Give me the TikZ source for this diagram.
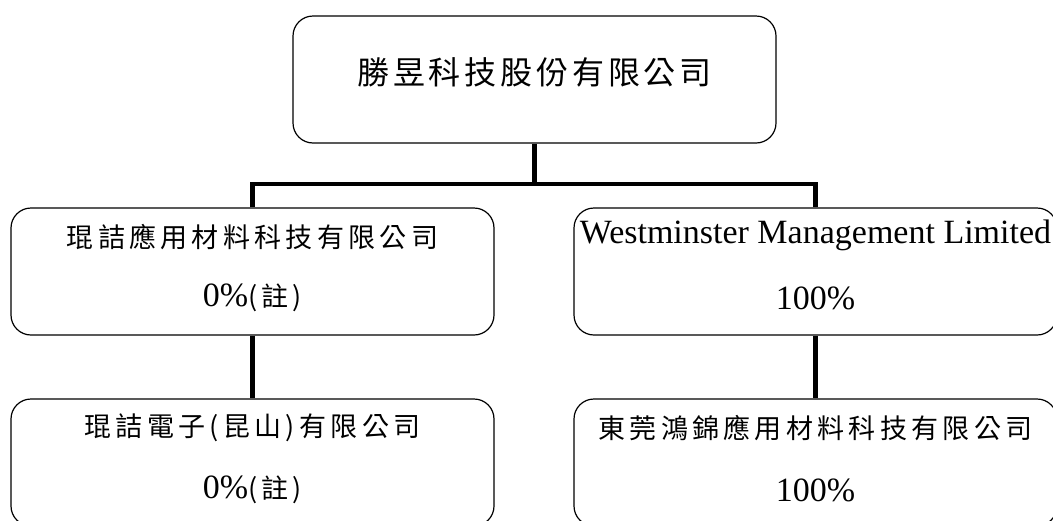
\documentclass[tikz,border=0pt]{standalone}
\usepackage{fontspec}
\setmainfont{Liberation Serif}
\newfontfamily\cjk[LetterSpace=16]{Noto Sans CJK TC}
\newfontfamily\cjkbig[LetterSpace=12]{Noto Sans CJK TC}
\tikzset{
  orgbox/.style={draw, line width=1.2pt, rounded corners=20pt, minimum width=483pt, minimum height=127pt, inner sep=0pt},
  conn/.style={line width=4.5pt},
  cjktxt/.style={inner sep=0pt, font=\fontsize{27}{30}\selectfont\cjk},
  cjktop/.style={inner sep=0pt, font=\fontsize{32}{36}\selectfont\cjkbig},
  lattxt/.style={inner sep=0pt, font=\fontsize{34}{36}\selectfont},
}
\begin{document}
\begin{tikzpicture}[x=1pt,y=-1pt]
\useasboundingbox (0,0) rectangle (1053,520);
\clip (0,0) rectangle (1053,520);
% boxes
\node[orgbox] (top) at (534.5,79.5) {};
\node[orgbox] (a) at (252.5,271.5) {};
\node[orgbox] (b) at (815.5,271.5) {};
\node[orgbox] (a2) at (252.5,462.5) {};
\node[orgbox] (b2) at (815.5,462.5) {};
% texts
\node[cjktop] (ttop) at (534.5,72) {勝昱科技股份有限公司};
\node[cjktxt] (ta1) at (252.5,237) {琨詰應用材料科技有限公司};
\node[inner sep=0pt] (ta2) at (252.5,298) {{\fontsize{34}{36}\selectfont 0\%}{\fontsize{27}{30}\selectfont\cjk(註)}};
\node[lattxt] (tb1) at (815.5,235) {Westminster Management Limited};
\node[lattxt] (tb2) at (815.5,298) {100\%};
\node[cjktxt] (ta3) at (252.5,428) {琨詰電子(昆山)有限公司};
\node[inner sep=0pt] (ta4) at (252.5,490) {{\fontsize{34}{36}\selectfont 0\%}{\fontsize{27}{30}\selectfont\cjk(註)}};
\node[cjktxt] (tb3) at (815.5,428) {東莞鴻錦應用材料科技有限公司};
\node[lattxt] (tb4) at (815.5,490) {100\%};
% connectors
\coordinate (hl) at (252.5,184);
\coordinate (hr) at (815.5,184);
\draw[conn] (top.south) -- (top.south |- hl);
\draw[conn] (a.north) -- (hl) -- (hr) -- (b.north);
\draw[conn] (a.south) -- (a2.north);
\draw[conn] (b.south) -- (b2.north);
\end{tikzpicture}
\end{document}
